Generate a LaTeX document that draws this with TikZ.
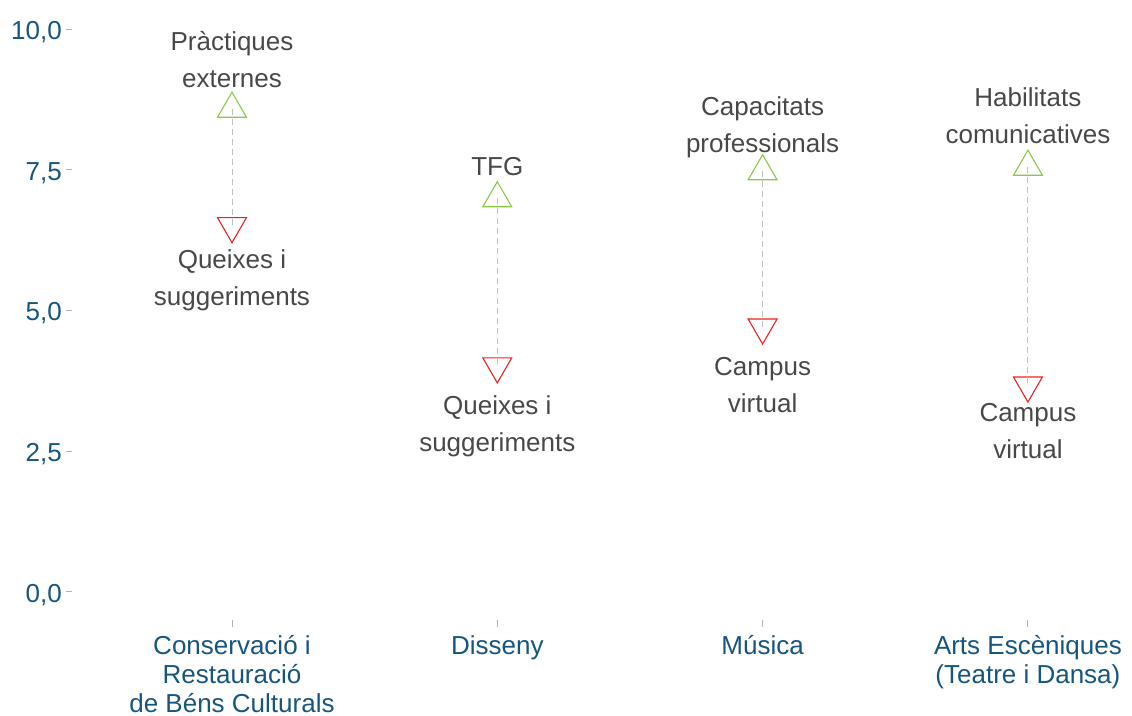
\documentclass[tikz,border=0pt]{standalone}
\usepackage{fontspec}
\setmainfont{Liberation Sans}
\usetikzlibrary{shapes.geometric,positioning}
\definecolor{axisblue}{RGB}{22,85,125}
\definecolor{labelgrey}{RGB}{72,72,72}
\definecolor{bestgreen}{RGB}{140,200,70}
\definecolor{worstred}{RGB}{240,30,30}
\tikzset{
	best/.style={regular polygon, regular polygon sides=3, draw=bestgreen, line width=1.1pt, minimum size=33.4pt, inner sep=0pt},
	worst/.style={best, draw=worstred, shape border rotate=180},
	gap/.style={draw=black!25, line width=0.9pt, dash pattern=on 6pt off 4pt},
	remark/.style={text=labelgrey, align=center, inner sep=0pt, font=\fontsize{26}{37}\selectfont},
	ticklabel/.style={text=axisblue, inner sep=0pt, font=\fontsize{26}{29}\selectfont},
	tickmark/.style={draw=black!30, line width=0.9pt}
}

\begin{document}
\begin{tikzpicture}[x=265.33pt, y=56.3pt]
			%%%%% START %%%%%
			\useasboundingbox (0.1256,-2.2025) rectangle (4.3923,10.515);
			
			% y axis
			\node[ticklabel, anchor=east, yshift=-3pt] (y0) at (0.3593, 0) {0,0};
			\node[ticklabel, anchor=east, yshift=-3pt] (y25) at (0.3593, 2.5) {2,5};
			\node[ticklabel, anchor=east, yshift=-3pt] (y50) at (0.3593, 5) {5,0};
			\node[ticklabel, anchor=east, yshift=-3pt] (y75) at (0.3593, 7.5) {7,5};
			\node[ticklabel, anchor=east, yshift=-3pt] (y100) at (0.3593, 10) {10,0};
			\draw[tickmark] (0.3744, 0) -- (0.3970, 0);
			\draw[tickmark] (0.3744, 2.5) -- (0.3970, 2.5);
			\draw[tickmark] (0.3744, 5) -- (0.3970, 5);
			\draw[tickmark] (0.3744, 7.5) -- (0.3970, 7.5);
			\draw[tickmark] (0.3744, 10) -- (0.3970, 10);
			
			% x axis
			\draw[tickmark] (1, -0.497) -- (1, -0.622);
			\draw[tickmark] (2, -0.497) -- (2, -0.622);
			\draw[tickmark] (3, -0.497) -- (3, -0.622);
			\draw[tickmark] (4, -0.497) -- (4, -0.622);
			\node[ticklabel, align=center, anchor=north] (crbc) at (1, -0.77) {Conservació i\\Restauració\\de Béns Culturals};
			\node[ticklabel, align=center, anchor=north] (diss) at (2, -0.77) {Disseny};
			\node[ticklabel, align=center, anchor=north] (musi) at (3, -0.77) {Música};
			\node[ticklabel, align=center, anchor=north] (arts) at (4, -0.77) {Arts Escèniques\\(Teatre i Dansa)};
			
			% best and worst items
			\node[best] (best1) at (1, 8.58) {};
			\node[worst] (worst1) at (1, 6.50) {};
			\node[best] (best2) at (2, 6.99) {};
			\node[worst] (worst2) at (2, 4.01) {};
			\node[best] (best3) at (3, 7.47) {};
			\node[worst] (worst3) at (3, 4.70) {};
			\node[best] (best4) at (4, 7.55) {};
			\node[worst] (worst4) at (4, 3.67) {};
			
			\draw[gap] (best1.center) -- (worst1.center);
			\draw[gap] (best2.center) -- (worst2.center);
			\draw[gap] (best3.center) -- (worst3.center);
			\draw[gap] (best4.center) -- (worst4.center);
			
			\node[remark] (top1) at (1, 9.458) {Pràctiques\\externes};
			\node[remark] (low1) at (1, 5.542) {Queixes i\\suggeriments};
			\node[remark] (top2) at (2, 7.549) {TFG};
			\node[remark] (low2) at (2, 2.940) {Queixes i\\suggeriments};
			\node[remark] (top3) at (3, 8.259) {Capacitats\\professionals};
			\node[remark] (low3) at (3, 3.668) {Campus\\virtual};
			\node[remark] (top4) at (4, 8.464) {Habilitats\\comunicatives};
			\node[remark] (low4) at (4, 2.851) {Campus\\virtual};
			
			%%%%% END %%%%%
\end{tikzpicture}
\end{document}
